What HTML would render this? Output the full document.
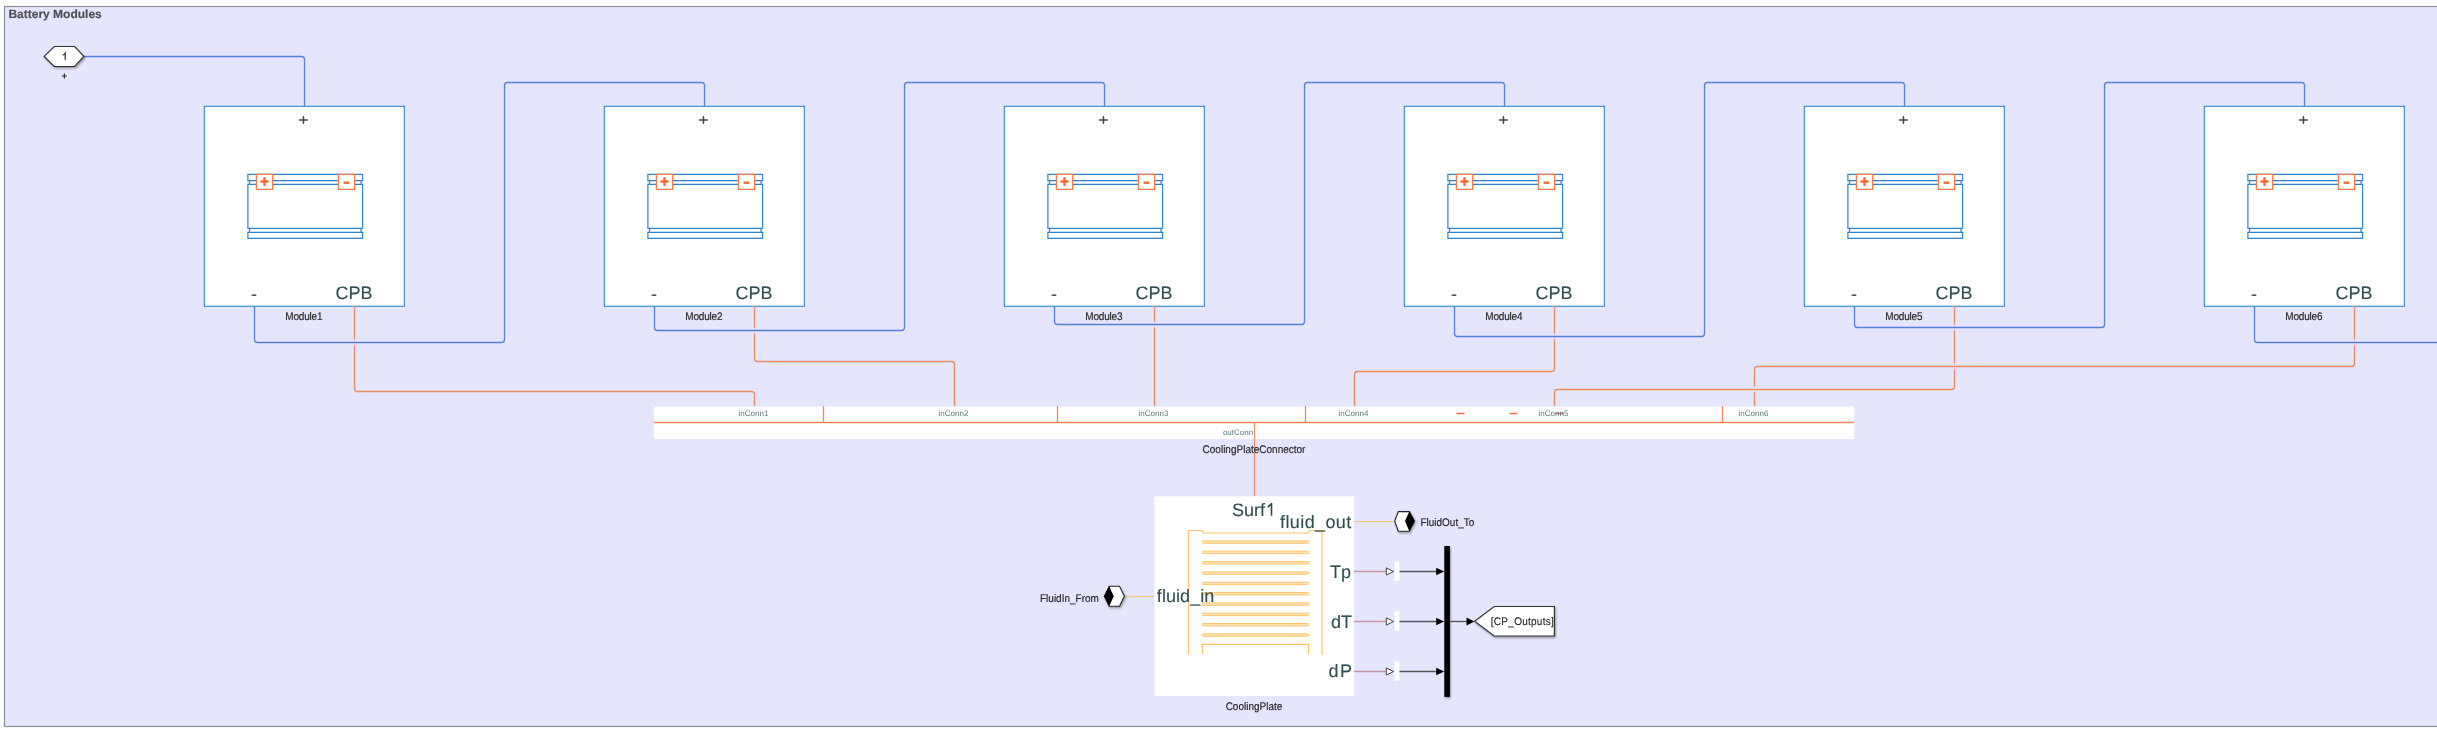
<!DOCTYPE html><html><head><meta charset="utf-8"><style>html,body{margin:0;padding:0;background:#fff;overflow:hidden}svg{display:block;will-change:transform}text{font-family:"Liberation Sans", sans-serif;text-rendering:geometricPrecision}</style></head><body>
<svg width="2437" height="736" viewBox="0 0 2437 736">
<defs><filter id="sh" x="-20%" y="-20%" width="140%" height="160%"><feDropShadow dx="1" dy="1.5" stdDeviation="1" flood-color="#000" flood-opacity="0.35"/></filter></defs>
<rect x="4.5" y="6.5" width="2440" height="720" fill="#E5E5FD" stroke="#8E8E96" stroke-width="1.2"/>
<text x="8.4" y="18.3" font-size="12" fill="#4E4E56" text-anchor="start" font-weight="bold" stroke="#4E4E56" stroke-width="0.15" >Battery Modules</text>
<rect x="203.2" y="105.2" width="202.6" height="202.6" rx="1" fill="none" stroke="#E9E9FC" stroke-width="1"/>
<rect x="204.35" y="106.3" width="200" height="200" fill="#fff" stroke="#4494D2" stroke-width="1.25"/>
<path d="M247.9,174.3 H362.6 V180.7 H247.9 Z" stroke="#2D84CB" stroke-width="1.2" fill="#fff" />
<path d="M249.5,180.7 V184.4 M361,180.7 V184.4" stroke="#2D84CB" stroke-width="1.2" fill="none" />
<path d="M247.9,184.4 H362.6 V228.4 H247.9 Z" stroke="#2D84CB" stroke-width="1.2" fill="#fff" />
<path d="M249.5,228.4 V232.4 M361,228.4 V232.4" stroke="#2D84CB" stroke-width="1.2" fill="none" />
<path d="M247.9,232.4 H362.6 V238.4 H247.9 Z" stroke="#2D84CB" stroke-width="1.2" fill="#fff" />
<path d="M256.4,174.3 H272.6 V189.3 H256.4 Z" stroke="#FF7A48" stroke-width="1.2" fill="#fff" />
<path d="M338.4,174.3 H354.6 V189.3 H338.4 Z" stroke="#FF7A48" stroke-width="1.2" fill="#fff" />
<path d="M261.3,181.6 H267.7 M264.5,178.3 V184.8" stroke="#FF6B2E" stroke-width="2.5" fill="none" stroke-linecap="round"/>
<path d="M344.6,182.8 H348.4" stroke="#FF6B2E" stroke-width="2.5" fill="none" stroke-linecap="round"/>
<path d="M299.1,120 H307.9 M303.5,115.9 V124.1" stroke="#2F4F4F" stroke-width="1.5" fill="none" />
<text x="254" y="299.7" font-size="18" fill="#2F4F4F" text-anchor="middle" font-weight="normal" stroke="#2F4F4F" stroke-width="0.12" >-</text>
<text x="335.5" y="299" font-size="18" fill="#2F4F4F" text-anchor="start" font-weight="normal" stroke="#2F4F4F" stroke-width="0.12" >CPB</text>
<text x="0" y="0" transform="translate(303.9,319.7) scale(1,1.1)" font-size="10" fill="#262626" text-anchor="middle" font-weight="normal" stroke="#262626" stroke-width="0.15" textLength="37.1" lengthAdjust="spacing">Module1</text>
<rect x="603.2" y="105.2" width="202.6" height="202.6" rx="1" fill="none" stroke="#E9E9FC" stroke-width="1"/>
<rect x="604.35" y="106.3" width="200" height="200" fill="#fff" stroke="#4494D2" stroke-width="1.25"/>
<path d="M647.9,174.3 H762.6 V180.7 H647.9 Z" stroke="#2D84CB" stroke-width="1.2" fill="#fff" />
<path d="M649.5,180.7 V184.4 M761,180.7 V184.4" stroke="#2D84CB" stroke-width="1.2" fill="none" />
<path d="M647.9,184.4 H762.6 V228.4 H647.9 Z" stroke="#2D84CB" stroke-width="1.2" fill="#fff" />
<path d="M649.5,228.4 V232.4 M761,228.4 V232.4" stroke="#2D84CB" stroke-width="1.2" fill="none" />
<path d="M647.9,232.4 H762.6 V238.4 H647.9 Z" stroke="#2D84CB" stroke-width="1.2" fill="#fff" />
<path d="M656.4,174.3 H672.6 V189.3 H656.4 Z" stroke="#FF7A48" stroke-width="1.2" fill="#fff" />
<path d="M738.4,174.3 H754.6 V189.3 H738.4 Z" stroke="#FF7A48" stroke-width="1.2" fill="#fff" />
<path d="M661.3,181.6 H667.7 M664.5,178.3 V184.8" stroke="#FF6B2E" stroke-width="2.5" fill="none" stroke-linecap="round"/>
<path d="M744.6,182.8 H748.4" stroke="#FF6B2E" stroke-width="2.5" fill="none" stroke-linecap="round"/>
<path d="M699.1,120 H707.9 M703.5,115.9 V124.1" stroke="#2F4F4F" stroke-width="1.5" fill="none" />
<text x="654" y="299.7" font-size="18" fill="#2F4F4F" text-anchor="middle" font-weight="normal" stroke="#2F4F4F" stroke-width="0.12" >-</text>
<text x="735.5" y="299" font-size="18" fill="#2F4F4F" text-anchor="start" font-weight="normal" stroke="#2F4F4F" stroke-width="0.12" >CPB</text>
<text x="0" y="0" transform="translate(703.9,319.7) scale(1,1.1)" font-size="10" fill="#262626" text-anchor="middle" font-weight="normal" stroke="#262626" stroke-width="0.15" textLength="37.1" lengthAdjust="spacing">Module2</text>
<rect x="1003.2" y="105.2" width="202.6" height="202.6" rx="1" fill="none" stroke="#E9E9FC" stroke-width="1"/>
<rect x="1004.35" y="106.3" width="200" height="200" fill="#fff" stroke="#4494D2" stroke-width="1.25"/>
<path d="M1047.9,174.3 H1162.6 V180.7 H1047.9 Z" stroke="#2D84CB" stroke-width="1.2" fill="#fff" />
<path d="M1049.5,180.7 V184.4 M1161,180.7 V184.4" stroke="#2D84CB" stroke-width="1.2" fill="none" />
<path d="M1047.9,184.4 H1162.6 V228.4 H1047.9 Z" stroke="#2D84CB" stroke-width="1.2" fill="#fff" />
<path d="M1049.5,228.4 V232.4 M1161,228.4 V232.4" stroke="#2D84CB" stroke-width="1.2" fill="none" />
<path d="M1047.9,232.4 H1162.6 V238.4 H1047.9 Z" stroke="#2D84CB" stroke-width="1.2" fill="#fff" />
<path d="M1056.4,174.3 H1072.6 V189.3 H1056.4 Z" stroke="#FF7A48" stroke-width="1.2" fill="#fff" />
<path d="M1138.4,174.3 H1154.6 V189.3 H1138.4 Z" stroke="#FF7A48" stroke-width="1.2" fill="#fff" />
<path d="M1061.3,181.6 H1067.7 M1064.5,178.3 V184.8" stroke="#FF6B2E" stroke-width="2.5" fill="none" stroke-linecap="round"/>
<path d="M1144.6,182.8 H1148.4" stroke="#FF6B2E" stroke-width="2.5" fill="none" stroke-linecap="round"/>
<path d="M1099.1,120 H1107.9 M1103.5,115.9 V124.1" stroke="#2F4F4F" stroke-width="1.5" fill="none" />
<text x="1054" y="299.7" font-size="18" fill="#2F4F4F" text-anchor="middle" font-weight="normal" stroke="#2F4F4F" stroke-width="0.12" >-</text>
<text x="1135.5" y="299" font-size="18" fill="#2F4F4F" text-anchor="start" font-weight="normal" stroke="#2F4F4F" stroke-width="0.12" >CPB</text>
<text x="0" y="0" transform="translate(1103.9,319.7) scale(1,1.1)" font-size="10" fill="#262626" text-anchor="middle" font-weight="normal" stroke="#262626" stroke-width="0.15" textLength="37.1" lengthAdjust="spacing">Module3</text>
<rect x="1403.2" y="105.2" width="202.6" height="202.6" rx="1" fill="none" stroke="#E9E9FC" stroke-width="1"/>
<rect x="1404.35" y="106.3" width="200" height="200" fill="#fff" stroke="#4494D2" stroke-width="1.25"/>
<path d="M1447.9,174.3 H1562.6 V180.7 H1447.9 Z" stroke="#2D84CB" stroke-width="1.2" fill="#fff" />
<path d="M1449.5,180.7 V184.4 M1561,180.7 V184.4" stroke="#2D84CB" stroke-width="1.2" fill="none" />
<path d="M1447.9,184.4 H1562.6 V228.4 H1447.9 Z" stroke="#2D84CB" stroke-width="1.2" fill="#fff" />
<path d="M1449.5,228.4 V232.4 M1561,228.4 V232.4" stroke="#2D84CB" stroke-width="1.2" fill="none" />
<path d="M1447.9,232.4 H1562.6 V238.4 H1447.9 Z" stroke="#2D84CB" stroke-width="1.2" fill="#fff" />
<path d="M1456.4,174.3 H1472.6 V189.3 H1456.4 Z" stroke="#FF7A48" stroke-width="1.2" fill="#fff" />
<path d="M1538.4,174.3 H1554.6 V189.3 H1538.4 Z" stroke="#FF7A48" stroke-width="1.2" fill="#fff" />
<path d="M1461.3,181.6 H1467.7 M1464.5,178.3 V184.8" stroke="#FF6B2E" stroke-width="2.5" fill="none" stroke-linecap="round"/>
<path d="M1544.6,182.8 H1548.4" stroke="#FF6B2E" stroke-width="2.5" fill="none" stroke-linecap="round"/>
<path d="M1499.1,120 H1507.9 M1503.5,115.9 V124.1" stroke="#2F4F4F" stroke-width="1.5" fill="none" />
<text x="1454" y="299.7" font-size="18" fill="#2F4F4F" text-anchor="middle" font-weight="normal" stroke="#2F4F4F" stroke-width="0.12" >-</text>
<text x="1535.5" y="299" font-size="18" fill="#2F4F4F" text-anchor="start" font-weight="normal" stroke="#2F4F4F" stroke-width="0.12" >CPB</text>
<text x="0" y="0" transform="translate(1503.9,319.7) scale(1,1.1)" font-size="10" fill="#262626" text-anchor="middle" font-weight="normal" stroke="#262626" stroke-width="0.15" textLength="37.1" lengthAdjust="spacing">Module4</text>
<rect x="1803.2" y="105.2" width="202.6" height="202.6" rx="1" fill="none" stroke="#E9E9FC" stroke-width="1"/>
<rect x="1804.35" y="106.3" width="200" height="200" fill="#fff" stroke="#4494D2" stroke-width="1.25"/>
<path d="M1847.9,174.3 H1962.6 V180.7 H1847.9 Z" stroke="#2D84CB" stroke-width="1.2" fill="#fff" />
<path d="M1849.5,180.7 V184.4 M1961,180.7 V184.4" stroke="#2D84CB" stroke-width="1.2" fill="none" />
<path d="M1847.9,184.4 H1962.6 V228.4 H1847.9 Z" stroke="#2D84CB" stroke-width="1.2" fill="#fff" />
<path d="M1849.5,228.4 V232.4 M1961,228.4 V232.4" stroke="#2D84CB" stroke-width="1.2" fill="none" />
<path d="M1847.9,232.4 H1962.6 V238.4 H1847.9 Z" stroke="#2D84CB" stroke-width="1.2" fill="#fff" />
<path d="M1856.4,174.3 H1872.6 V189.3 H1856.4 Z" stroke="#FF7A48" stroke-width="1.2" fill="#fff" />
<path d="M1938.4,174.3 H1954.6 V189.3 H1938.4 Z" stroke="#FF7A48" stroke-width="1.2" fill="#fff" />
<path d="M1861.3,181.6 H1867.7 M1864.5,178.3 V184.8" stroke="#FF6B2E" stroke-width="2.5" fill="none" stroke-linecap="round"/>
<path d="M1944.6,182.8 H1948.4" stroke="#FF6B2E" stroke-width="2.5" fill="none" stroke-linecap="round"/>
<path d="M1899.1,120 H1907.9 M1903.5,115.9 V124.1" stroke="#2F4F4F" stroke-width="1.5" fill="none" />
<text x="1854" y="299.7" font-size="18" fill="#2F4F4F" text-anchor="middle" font-weight="normal" stroke="#2F4F4F" stroke-width="0.12" >-</text>
<text x="1935.5" y="299" font-size="18" fill="#2F4F4F" text-anchor="start" font-weight="normal" stroke="#2F4F4F" stroke-width="0.12" >CPB</text>
<text x="0" y="0" transform="translate(1903.9,319.7) scale(1,1.1)" font-size="10" fill="#262626" text-anchor="middle" font-weight="normal" stroke="#262626" stroke-width="0.15" textLength="37.1" lengthAdjust="spacing">Module5</text>
<rect x="2203.2" y="105.2" width="202.6" height="202.6" rx="1" fill="none" stroke="#E9E9FC" stroke-width="1"/>
<rect x="2204.35" y="106.3" width="200" height="200" fill="#fff" stroke="#4494D2" stroke-width="1.25"/>
<path d="M2247.9,174.3 H2362.6 V180.7 H2247.9 Z" stroke="#2D84CB" stroke-width="1.2" fill="#fff" />
<path d="M2249.5,180.7 V184.4 M2361,180.7 V184.4" stroke="#2D84CB" stroke-width="1.2" fill="none" />
<path d="M2247.9,184.4 H2362.6 V228.4 H2247.9 Z" stroke="#2D84CB" stroke-width="1.2" fill="#fff" />
<path d="M2249.5,228.4 V232.4 M2361,228.4 V232.4" stroke="#2D84CB" stroke-width="1.2" fill="none" />
<path d="M2247.9,232.4 H2362.6 V238.4 H2247.9 Z" stroke="#2D84CB" stroke-width="1.2" fill="#fff" />
<path d="M2256.4,174.3 H2272.6 V189.3 H2256.4 Z" stroke="#FF7A48" stroke-width="1.2" fill="#fff" />
<path d="M2338.4,174.3 H2354.6 V189.3 H2338.4 Z" stroke="#FF7A48" stroke-width="1.2" fill="#fff" />
<path d="M2261.3,181.6 H2267.7 M2264.5,178.3 V184.8" stroke="#FF6B2E" stroke-width="2.5" fill="none" stroke-linecap="round"/>
<path d="M2344.6,182.8 H2348.4" stroke="#FF6B2E" stroke-width="2.5" fill="none" stroke-linecap="round"/>
<path d="M2299.1,120 H2307.9 M2303.5,115.9 V124.1" stroke="#2F4F4F" stroke-width="1.5" fill="none" />
<text x="2254" y="299.7" font-size="18" fill="#2F4F4F" text-anchor="middle" font-weight="normal" stroke="#2F4F4F" stroke-width="0.12" >-</text>
<text x="2335.5" y="299" font-size="18" fill="#2F4F4F" text-anchor="start" font-weight="normal" stroke="#2F4F4F" stroke-width="0.12" >CPB</text>
<text x="0" y="0" transform="translate(2303.9,319.7) scale(1,1.1)" font-size="10" fill="#262626" text-anchor="middle" font-weight="normal" stroke="#262626" stroke-width="0.15" textLength="37.1" lengthAdjust="spacing">Module6</text>
<path d="M354.5,306 L354.50,388.50 Q354.5,391.5 357.50,391.50 L751.50,391.50 Q754.5,391.5 754.50,394.50 L754.5,406" stroke="#EA8A60" stroke-width="1.3" fill="none" stroke-linejoin="round"/>
<path d="M754.5,306 L754.50,358.50 Q754.5,361.5 757.50,361.50 L951.50,361.50 Q954.5,361.5 954.50,364.50 L954.5,406" stroke="#EA8A60" stroke-width="1.3" fill="none" stroke-linejoin="round"/>
<path d="M1154.5,306 L1154.5,406" stroke="#EA8A60" stroke-width="1.3" fill="none" stroke-linejoin="round"/>
<path d="M1554.5,306 L1554.50,368.50 Q1554.5,371.5 1551.50,371.50 L1357.50,371.50 Q1354.5,371.5 1354.50,374.50 L1354.5,406" stroke="#EA8A60" stroke-width="1.3" fill="none" stroke-linejoin="round"/>
<path d="M1954.5,306 L1954.50,386.50 Q1954.5,389.5 1951.50,389.50 L1557.50,389.50 Q1554.5,389.5 1554.50,392.50 L1554.5,406" stroke="#EA8A60" stroke-width="1.3" fill="none" stroke-linejoin="round"/>
<path d="M2354.5,306 L2354.50,363.50 Q2354.5,366.5 2351.50,366.50 L1757.50,366.50 Q1754.5,366.5 1754.50,369.50 L1754.5,406" stroke="#EA8A60" stroke-width="1.3" fill="none" stroke-linejoin="round"/>
<rect x="353.0" y="339.5" width="3" height="6" fill="#E5E5FD" opacity="0.75"/>
<rect x="753.0" y="327.5" width="3" height="6" fill="#E5E5FD" opacity="0.75"/>
<rect x="1153.0" y="321.5" width="3" height="6" fill="#E5E5FD" opacity="0.75"/>
<rect x="1553.0" y="333.5" width="3" height="6" fill="#E5E5FD" opacity="0.75"/>
<rect x="1953.0" y="324.5" width="3" height="6" fill="#E5E5FD" opacity="0.75"/>
<rect x="2353.0" y="339.5" width="3" height="6" fill="#E5E5FD" opacity="0.75"/>
<rect x="1953.0" y="363.5" width="3" height="6" fill="#E5E5FD" opacity="0.75"/>
<rect x="1753.0" y="386.5" width="3" height="6" fill="#E5E5FD" opacity="0.75"/>
<path d="M1758,366.5 H2351" stroke="#EA8A60" stroke-width="1" fill="none" />
<path d="M1558,389.5 H1951" stroke="#EA8A60" stroke-width="1" fill="none" />
<path d="M84,56.5 L301.50,56.50 Q304.5,56.5 304.50,59.50 L304.5,106" stroke="#5581D8" stroke-width="1.3" fill="none" stroke-linejoin="round"/>
<path d="M254.5,306 L254.50,339.50 Q254.5,342.5 257.50,342.50 L501.50,342.50 Q504.5,342.5 504.50,339.50 L504.50,85.50 Q504.5,82.5 507.50,82.50 L701.50,82.50 Q704.5,82.5 704.50,85.50 L704.5,106" stroke="#5581D8" stroke-width="1.3" fill="none" stroke-linejoin="round"/>
<path d="M654.5,306 L654.50,327.50 Q654.5,330.5 657.50,330.50 L901.50,330.50 Q904.5,330.5 904.50,327.50 L904.50,85.50 Q904.5,82.5 907.50,82.50 L1101.50,82.50 Q1104.5,82.5 1104.50,85.50 L1104.5,106" stroke="#5581D8" stroke-width="1.3" fill="none" stroke-linejoin="round"/>
<path d="M1054.5,306 L1054.50,321.50 Q1054.5,324.5 1057.50,324.50 L1301.50,324.50 Q1304.5,324.5 1304.50,321.50 L1304.50,85.50 Q1304.5,82.5 1307.50,82.50 L1501.50,82.50 Q1504.5,82.5 1504.50,85.50 L1504.5,106" stroke="#5581D8" stroke-width="1.3" fill="none" stroke-linejoin="round"/>
<path d="M1454.5,306 L1454.50,333.50 Q1454.5,336.5 1457.50,336.50 L1701.50,336.50 Q1704.5,336.5 1704.50,333.50 L1704.50,85.50 Q1704.5,82.5 1707.50,82.50 L1901.50,82.50 Q1904.5,82.5 1904.50,85.50 L1904.5,106" stroke="#5581D8" stroke-width="1.3" fill="none" stroke-linejoin="round"/>
<path d="M1854.5,306 L1854.50,324.50 Q1854.5,327.5 1857.50,327.50 L2101.50,327.50 Q2104.5,327.5 2104.50,324.50 L2104.50,85.50 Q2104.5,82.5 2107.50,82.50 L2301.50,82.50 Q2304.5,82.5 2304.50,85.50 L2304.5,106" stroke="#5581D8" stroke-width="1.3" fill="none" stroke-linejoin="round"/>
<path d="M2254.5,306 L2254.50,339.50 Q2254.5,342.5 2257.50,342.50 L2450,342.5" stroke="#5581D8" stroke-width="1.3" fill="none" stroke-linejoin="round"/>
<rect x="654.2" y="406.6" width="1200" height="32.5" fill="#fff"/>
<path d="M654,422.5 H1854" stroke="#F28656" stroke-width="1.3" fill="none" />
<path d="M823.5,406 V422.5" stroke="#F28656" stroke-width="1.3" fill="none" />
<path d="M1057.5,406 V422.5" stroke="#F28656" stroke-width="1.3" fill="none" />
<path d="M1305.5,406 V422.5" stroke="#F28656" stroke-width="1.3" fill="none" />
<path d="M1722.5,406 V422.5" stroke="#F28656" stroke-width="1.3" fill="none" />
<path d="M1456.5,413.5 H1464.5" stroke="#F07040" stroke-width="1.5" fill="none" />
<path d="M1509.5,413.5 H1517.5" stroke="#F07040" stroke-width="1.5" fill="none" />
<path d="M1555.5,413.5 H1563.5" stroke="#F07040" stroke-width="1.5" fill="none" />
<text x="753.5" y="416.3" font-size="8" fill="#5F7777" text-anchor="middle" font-weight="normal" >inConn1</text>
<text x="953.5" y="416.3" font-size="8" fill="#5F7777" text-anchor="middle" font-weight="normal" >inConn2</text>
<text x="1153.5" y="416.3" font-size="8" fill="#5F7777" text-anchor="middle" font-weight="normal" >inConn3</text>
<text x="1353.5" y="416.3" font-size="8" fill="#5F7777" text-anchor="middle" font-weight="normal" >inConn4</text>
<text x="1553.5" y="416.3" font-size="8" fill="#5F7777" text-anchor="middle" font-weight="normal" >inConn5</text>
<text x="1753.5" y="416.3" font-size="8" fill="#5F7777" text-anchor="middle" font-weight="normal" >inConn6</text>
<text x="1238" y="435" font-size="8" fill="#5F7777" text-anchor="middle" font-weight="normal" >outConn</text>
<path d="M1254.5,422.5 V496" stroke="#EA8A60" stroke-width="1.2" fill="none" />
<text x="0" y="0" transform="translate(1254,452.6) scale(1,1.1)" font-size="10" fill="#262626" text-anchor="middle" font-weight="normal" stroke="#262626" stroke-width="0.15" >CoolingPlateConnector</text>
<rect x="1154.4" y="496.4" width="199.8" height="199.5" fill="#fff"/>
<path d="M1188.5,654.5 V530.5 H1202 L1203.5,533 H1308 L1309.5,530.5 H1322 V654.5" stroke="#FFC46A" stroke-width="1.2" fill="none" />
<rect x="1202.2" y="540.90" width="106.6" height="2.4" rx="1.2" fill="#FFE4B8" stroke="#FFC46A" stroke-width="1"/>
<rect x="1202.2" y="551.23" width="106.6" height="2.4" rx="1.2" fill="#FFE4B8" stroke="#FFC46A" stroke-width="1"/>
<rect x="1202.2" y="561.56" width="106.6" height="2.4" rx="1.2" fill="#FFE4B8" stroke="#FFC46A" stroke-width="1"/>
<rect x="1202.2" y="571.89" width="106.6" height="2.4" rx="1.2" fill="#FFE4B8" stroke="#FFC46A" stroke-width="1"/>
<rect x="1202.2" y="582.22" width="106.6" height="2.4" rx="1.2" fill="#FFE4B8" stroke="#FFC46A" stroke-width="1"/>
<rect x="1202.2" y="592.55" width="106.6" height="2.4" rx="1.2" fill="#FFE4B8" stroke="#FFC46A" stroke-width="1"/>
<rect x="1202.2" y="602.88" width="106.6" height="2.4" rx="1.2" fill="#FFE4B8" stroke="#FFC46A" stroke-width="1"/>
<rect x="1202.2" y="613.21" width="106.6" height="2.4" rx="1.2" fill="#FFE4B8" stroke="#FFC46A" stroke-width="1"/>
<rect x="1202.2" y="623.54" width="106.6" height="2.4" rx="1.2" fill="#FFE4B8" stroke="#FFC46A" stroke-width="1"/>
<rect x="1202.2" y="633.87" width="106.6" height="2.4" rx="1.2" fill="#FFE4B8" stroke="#FFC46A" stroke-width="1"/>
<path d="M1202.5,654.5 V644.4 H1308.5 V654.5" stroke="#FFC46A" stroke-width="1.1" fill="none" />
<text x="1231.9" y="516" font-size="18" fill="#2F4F4F" text-anchor="start" font-weight="normal" stroke="#2F4F4F" stroke-width="0.12" >Surf</text>
<path d="M1267.8,507.1 L1271.5,503.6 V515.8" stroke="#2F4F4F" stroke-width="1.65" fill="none" stroke-linejoin="round"/>
<text x="1351.3" y="527.8" font-size="18" fill="#2F4F4F" text-anchor="end" font-weight="normal" stroke="#2F4F4F" stroke-width="0.12" textLength="71.3" lengthAdjust="spacing">fluid_out</text>
<text x="1156.8" y="601.7" font-size="18" fill="#2F4F4F" text-anchor="start" font-weight="normal" stroke="#2F4F4F" stroke-width="0.12" textLength="57.5" lengthAdjust="spacing">fluid_in</text>
<text x="1351" y="577.7" font-size="18" fill="#2F4F4F" text-anchor="end" font-weight="normal" stroke="#2F4F4F" stroke-width="0.12" >Tp</text>
<text x="1352" y="627.5" font-size="18" fill="#2F4F4F" text-anchor="end" font-weight="normal" stroke="#2F4F4F" stroke-width="0.12" >dT</text>
<text x="1352" y="677.2" font-size="18" fill="#2F4F4F" text-anchor="end" font-weight="normal" stroke="#2F4F4F" stroke-width="0.12" textLength="23.6" lengthAdjust="spacing">dP</text>
<text x="0" y="0" transform="translate(1254,710) scale(1,1.1)" font-size="10" fill="#262626" text-anchor="middle" font-weight="normal" stroke="#262626" stroke-width="0.15" >CoolingPlate</text>
<path d="M1124.5,596.5 H1154" stroke="#EFC68A" stroke-width="1.2" fill="none" />
<path d="M1354,521.5 H1395" stroke="#EFC68A" stroke-width="1.2" fill="none" />
<path d="M1354,571.5 H1386" stroke="#C596A6" stroke-width="1.5" fill="none" />
<path d="M1386.3,567.9 L1393.6,571.5 L1386.3,575.1 Z" fill="#fff" stroke="#333" stroke-width="0.9"/>
<rect x="1394.5" y="561.2" width="4.9" height="19.5" fill="#fff"/>
<path d="M1399.5,571.5 H1437" stroke="#55555C" stroke-width="1.35" fill="none" />
<path d="M1436.2,567.7 L1444.2,571.5 L1436.2,575.3 Z" fill="#000"/>
<path d="M1354,621.5 H1386" stroke="#C596A6" stroke-width="1.5" fill="none" />
<path d="M1386.3,617.9 L1393.6,621.5 L1386.3,625.1 Z" fill="#fff" stroke="#333" stroke-width="0.9"/>
<rect x="1394.5" y="611.2" width="4.9" height="19.5" fill="#fff"/>
<path d="M1399.5,621.5 H1437" stroke="#55555C" stroke-width="1.35" fill="none" />
<path d="M1436.2,617.7 L1444.2,621.5 L1436.2,625.3 Z" fill="#000"/>
<path d="M1354,671.5 H1386" stroke="#C596A6" stroke-width="1.5" fill="none" />
<path d="M1386.3,667.9 L1393.6,671.5 L1386.3,675.1 Z" fill="#fff" stroke="#333" stroke-width="0.9"/>
<rect x="1394.5" y="661.2" width="4.9" height="19.5" fill="#fff"/>
<path d="M1399.5,671.5 H1437" stroke="#55555C" stroke-width="1.35" fill="none" />
<path d="M1436.2,667.7 L1444.2,671.5 L1436.2,675.3 Z" fill="#000"/>
<rect x="1444.3" y="546" width="5.6" height="150.9" fill="#000" filter="url(#sh)"/>
<path d="M1450,621.5 H1467" stroke="#55555C" stroke-width="1.35" fill="none" />
<path d="M1466.5,617.6 L1474.5,621.5 L1466.5,625.4 Z" fill="#000"/>
<path d="M1474.7,621.3 L1494.2,606.5 H1554.4 V636 H1494.2 Z" fill="#fff" stroke="#333" stroke-width="1.2" filter="url(#sh)"/>
<text x="0" y="0" transform="translate(1522.3,625) scale(1,1.1)" font-size="10" fill="#262626" text-anchor="middle" font-weight="normal" stroke="#262626" stroke-width="0.12" textLength="63" lengthAdjust="spacing">[CP_Outputs]</text>
<path d="M1394.7,521 L1398.3,511.6 H1409.3 L1414.5,521 L1409.3,531.2 H1398.3 Z" fill="#fff" stroke="#222" stroke-width="1.1" filter="url(#sh)"/>
<path d="M1409.3,511.6 L1414.5,521 L1409.3,531.2 L1405,521 Z" fill="#000"/>
<text x="0" y="0" transform="translate(1420.4,526) scale(1,1.1)" font-size="10" fill="#262626" text-anchor="start" font-weight="normal" stroke="#262626" stroke-width="0.15" >FluidOut_To</text>
<path d="M1104.3,596.3 L1109.2,586.3 H1119.5 L1124.4,596.3 L1119.5,606.3 H1109.2 Z" fill="#fff" stroke="#222" stroke-width="1.1" filter="url(#sh)"/>
<path d="M1109.2,586.3 L1104.3,596.3 L1109.2,606.3 L1113.7,596.3 Z" fill="#000"/>
<text x="0" y="0" transform="translate(1098.9,602.1) scale(1,1.1)" font-size="10" fill="#262626" text-anchor="end" font-weight="normal" stroke="#262626" stroke-width="0.15" >FluidIn_From</text>
<path d="M44.2,56.4 L54.3,46.5 H74.6 L83.9,56.4 L74.6,66.5 H54.3 Z" fill="#fff" stroke="#333" stroke-width="1.2" filter="url(#sh)"/>
<path d="M62.7,55.3 Q64.4,54.7 65.2,53.3 V59.7" stroke="#222" stroke-width="1.15" fill="none" />
<path d="M61.9,76 H66.9 M64.4,73.5 V78.5" stroke="#333" stroke-width="1.2" fill="none" />
</svg></body></html>
